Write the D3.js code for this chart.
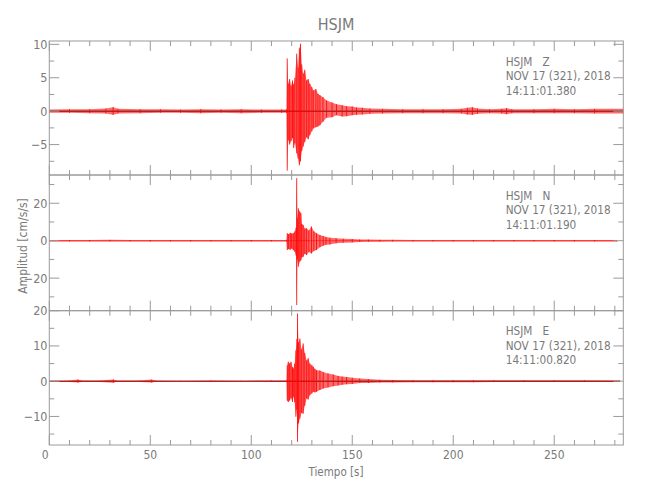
<!DOCTYPE html>
<html><head><meta charset="utf-8">
<script src="https://cdn.jsdelivr.net/npm/d3@7"></script>
<style>
body{margin:0;background:#fff;}
text{font-family:"Liberation Sans Narrow","DejaVu Sans Condensed","Roboto Condensed",sans-serif;fill:#7a7a7a;}
</style></head><body>
<svg id="c" width="650" height="500"></svg>
<script>
// ---- data ----
const title = "HSJM";
const components = ["Z", "N", "E"];
const stationLabel = "HSJM";
const dateLabel = "NOV 17 (321), 2018";
const startTimes = ["14:11:01.380", "14:11:01.190", "14:11:00.820"];
const xLabel = "Tiempo [s]";
const yLabel = "Amplitud [cm/s/s]";
const xTickValues = [0, 50, 100, 150, 200, 250];
const timeRange = [0, 284.2];
const yRanges = [[-9.55, 10.5], [-37.4, 35.1], [-18.1, 20]];
const yMajorStep = [5, 20, 10];
const yMinorStep = [2.5, 10, 5];

// [time s, upper envelope, lower envelope]
const traceZ = [
 [0,0.25,-0.25],[10,0.3,-0.25],[20,0.3,-0.3],[28,0.4,-0.35],[31.6,0.6,-0.55],[34,0.35,-0.35],[45,0.3,-0.3],[55,0.3,-0.25],[65,0.25,-0.25],[75,0.3,-0.3],[85,0.25,-0.25],[95,0.3,-0.3],[105,0.25,-0.25],[115,0.25,-0.25],[117.5,0.25,-0.25],
 [117.8,7.9,-8.9],[118.3,4.1,-4.3],[119,4.8,-5.0],[119.7,3.8,-4.5],[120.4,4.6,-4.0],[121,4.0,-5.5],[121.6,5.0,-4.8],[122.5,8.6,-6.3],[123.2,6.5,-7.1],[123.8,9.4,-8.1],[124.4,10.1,-7.5],[125,7.0,-6.0],[125.7,5.6,-5.3],[126.5,6.2,-4.6],[127.4,4.6,-3.9],[128.2,4.8,-4.2],[129,4.1,-3.6],[130,3.6,-3.0],[130.7,3.1,-2.6],[132,3.3,-2.4],[133,2.6,-2.3],[134,2.4,-2.1],[135.5,2.1,-1.6],[137.3,1.6,-1.0],[140,1.3,-0.9],[142.2,1.05,-0.6],[145,0.9,-0.8],[147.2,0.75,-0.75],[150,0.7,-0.6],[152.1,0.55,-0.55],[155,0.5,-0.5],[158.7,0.4,-0.4],
 [165,0.35,-0.35],[175,0.3,-0.3],[185,0.3,-0.3],[195,0.3,-0.3],[204,0.35,-0.35],[207,0.5,-0.5],[209.5,0.6,-0.55],[212,0.4,-0.4],[218,0.3,-0.3],[224,0.35,-0.35],[226.4,0.45,-0.45],[229,0.3,-0.3],[240,0.3,-0.3],[250,0.35,-0.3],[260,0.3,-0.3],[270,0.35,-0.35],[284.2,0.35,-0.35]
];
const traceN = [
 [0,0.4,-0.4],[10,0.4,-0.4],[20,0.4,-0.4],[30,0.45,-0.4],[40,0.4,-0.4],[50,0.4,-0.45],[60,0.4,-0.4],[70,0.4,-0.4],[80,0.4,-0.4],[90,0.4,-0.4],[100,0.4,-0.4],[110,0.4,-0.4],[117.5,0.4,-0.4],
 [117.8,4.0,-5.0],[118.5,3.5,-4.5],[119.3,4.2,-4.8],[120,3.8,-4.2],[120.8,4.0,-5.0],[121.6,5.0,-6.0],[122.2,7.0,-8.0],[122.5,33.4,-34.4],[122.8,12,-10],[123.3,17.3,-13.9],[124,15.6,-11.2],[124.6,14.7,-10.5],[125,9.0,-9.0],[125.7,8.4,-8.6],[126.5,6.5,-7.0],[127.4,6.6,-7.7],[128.5,5.5,-6.0],[129.8,7.6,-6.8],[131,5.0,-5.5],[132.3,4.0,-5.0],[134,3.0,-3.5],[135.6,2.5,-2.7],[137,2.0,-2.2],[138.9,1.6,-2.0],[142,1.3,-1.4],[145.5,1.1,-1.1],[150,0.9,-0.9],[153.7,0.7,-0.7],[158,0.6,-0.6],[163.6,0.5,-0.5],
 [170,0.45,-0.45],[180,0.4,-0.4],[190,0.4,-0.4],[200,0.4,-0.4],[210,0.4,-0.4],[220,0.4,-0.4],[230,0.4,-0.4],[240,0.4,-0.4],[250,0.4,-0.4],[260,0.4,-0.4],[270,0.4,-0.4],[281,0.4,-0.4]
];
const traceE = [
 [0,0.15,-0.15],[10,0.2,-0.2],[14.2,0.45,-0.4],[16,0.2,-0.2],[25,0.2,-0.2],[31.7,0.5,-0.45],[33,0.2,-0.2],[45,0.2,-0.2],[50.7,0.45,-0.4],[52,0.2,-0.2],[65,0.15,-0.15],[80,0.2,-0.2],[95,0.15,-0.15],[110,0.2,-0.2],[117.5,0.2,-0.2],
 [117.8,4.5,-5.5],[118.3,5.5,-5.9],[119,5.0,-5.5],[119.7,5.5,-4.8],[120.4,4.0,-5.9],[120.8,3.6,-4.4],[121.5,5.0,-6.0],[122.1,8.8,-10.1],[122.6,12,-8],[122.9,19.2,-17.2],[123.4,11,-12],[124.1,12.1,-10.6],[124.8,9.0,-9.0],[125.7,10.7,-9.2],[126.5,8.0,-7.0],[127.4,5.9,-4.9],[128.2,6.5,-5.2],[129,5.0,-4.0],[130,4.5,-3.5],[130.7,4.1,-3.0],[131.5,3.5,-3.2],[132.3,3.1,-3.0],[134,3.0,-2.5],[135.6,2.6,-2.1],[138,2.2,-1.8],[140.6,1.9,-1.4],[143,1.5,-1.2],[145,1.3,-1.0],[147.2,1.2,-0.9],[150,1.0,-0.8],[153.7,0.8,-0.5],[158,0.6,-0.5],[163.6,0.4,-0.4],
 [170,0.35,-0.35],[180,0.3,-0.3],[190,0.3,-0.3],[200,0.3,-0.3],[210,0.3,-0.3],[220,0.25,-0.25],[235,0.25,-0.25],[250,0.25,-0.25],[265,0.25,-0.25],[282.5,0.2,-0.2]
];
const traces = [traceZ, traceN, traceE];

// ---- layout ----
const svg = d3.select("#c");
const L = 49.3, R = 623.3;
const panelTops = [41, 175, 310.7];
const panelBottoms = [175, 310.7, 445];
const axisColor = "#9a9a9a";
const x = d3.scaleLinear().domain(timeRange).range([L, R]);

svg.append("text").attr("x", 336).attr("y", 30).attr("text-anchor", "middle")
  .style("font-size", "16px").text(title);

function rangeSteps(lo, hi, step){
  const out = [];
  for (let v = Math.ceil(lo/step - 1e-9)*step; v <= hi + 1e-9; v += step) out.push(+v.toFixed(6));
  return out;
}

components.forEach((comp, i) => {
  const top = panelTops[i], bot = panelBottoms[i];
  const y = d3.scaleLinear().domain(yRanges[i]).range([bot, top]);
  const g = svg.append("g");
  const clipId = "clip" + i;
  svg.append("clipPath").attr("id", clipId).append("rect")
    .attr("x", L).attr("y", top).attr("width", R - L).attr("height", bot - top);

  const data = traces[i];
  const tg = g.append("g").attr("clip-path", `url(#${clipId})`);
  const area = d3.area().x(d => x(d[0])).y0(d => y(d[2])).y1(d => y(d[1]));
  tg.append("path").attr("d", area(data)).attr("fill", "#ff0000").attr("fill-opacity", 0.58);
  // zero baseline
  tg.append("line").attr("x1", x(data[0][0])).attr("x2", x(data[data.length-1][0]))
    .attr("y1", y(0)).attr("y2", y(0))
    .attr("stroke", i === 1 ? "#ff3030" : "#8a0000").attr("stroke-width", 1);
  // peak streaks
  tg.selectAll("line.s").data(data).join("line").attr("class", "s")
    .attr("x1", d => x(d[0])).attr("x2", d => x(d[0]))
    .attr("y1", d => y(d[1])).attr("y2", d => y(d[2]))
    .attr("stroke", "#ff0000").attr("stroke-width", 0.9).attr("stroke-opacity", 0.9);

  // frame
  g.append("rect").attr("x", L).attr("y", top).attr("width", R - L).attr("height", bot - top)
    .attr("fill", "none").attr("stroke", axisColor).attr("stroke-width", 1);

  // x ticks (top & bottom, inward)
  const xMinor = rangeSteps(timeRange[0], timeRange[1], 10);
  xMinor.forEach(v => {
    const len = (v % 50 === 0) ? 10 : 5;
    g.append("line").attr("x1", x(v)).attr("x2", x(v)).attr("y1", top).attr("y2", top + len).attr("stroke", axisColor);
    g.append("line").attr("x1", x(v)).attr("x2", x(v)).attr("y1", bot).attr("y2", bot - len).attr("stroke", axisColor);
  });

  // y ticks (left & right, inward)
  const yMin = rangeSteps(yRanges[i][0], yRanges[i][1], yMinorStep[i]);
  yMin.forEach(v => {
    const major = Math.abs(v / yMajorStep[i] - Math.round(v / yMajorStep[i])) < 1e-6;
    const len = major ? 10 : 5;
    g.append("line").attr("x1", L).attr("x2", L + len).attr("y1", y(v)).attr("y2", y(v)).attr("stroke", axisColor);
    g.append("line").attr("x1", R).attr("x2", R - len).attr("y1", y(v)).attr("y2", y(v)).attr("stroke", axisColor);
  });
  const yMaj = rangeSteps(yRanges[i][0], yRanges[i][1], yMajorStep[i]);
  const fmt = d3.format("d");
  yMaj.forEach(v => {
    g.append("text").attr("x", 47.5).attr("y", y(v)).attr("dy", "0.36em").attr("text-anchor", "end")
      .style("font-size", "12.5px").text(fmt(v));
  });

  // x tick labels on bottom panel only
  if (i === components.length - 1) {
    xTickValues.forEach(v => {
      g.append("text").attr("x", x(v) - (v === 0 ? 4 : 0)).attr("y", bot + 13.5).attr("text-anchor", "middle")
        .style("font-size", "12px").text(v);
    });
  }

  // annotations
  const ann = [stationLabel + "   " + comp, dateLabel, startTimes[i]];
  ann.forEach((s, k) => {
    g.append("text").attr("x", 505.7).attr("y", top + 24.5 + k * 14.6)
      .style("font-size", "11.7px").style("white-space", "pre")
      .attr("xml:space", "preserve").text(s);
  });
});

svg.append("text").attr("x", 336).attr("y", 475.5).attr("text-anchor", "middle")
  .style("font-size", "11.5px").text(xLabel);
svg.append("text").attr("transform", "translate(26.5,246) rotate(-90)").attr("text-anchor", "middle")
  .style("font-size", "12px").text(yLabel);
</script></body></html>
